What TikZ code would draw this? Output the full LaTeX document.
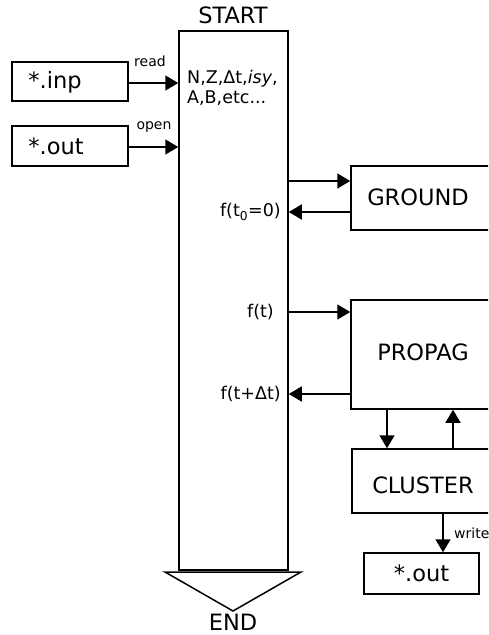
\documentclass[tikz,border=0pt]{standalone}
\usepackage{fontspec}
\setmainfont{DejaVu Sans}
\usepackage{xcolor}
\usepackage{tikz}
\usetikzlibrary{calc,arrows.meta}
\definecolor{ink}{HTML}{000000}
\tikzset{
  box/.style={draw=ink, line width=1.5pt, rectangle, inner sep=0pt},
  flow/.style={draw=ink, line width=1.5pt, -{Triangle[length=13pt,width=15pt]}},
  big/.style={text=ink, font=\fontsize{22.5}{25}\selectfont, inner sep=0pt},
  mid/.style={text=ink, font=\fontsize{17.5}{20}\selectfont, inner sep=0pt},
  lab/.style={text=ink, font=\fontsize{14}{16}\selectfont, inner sep=0pt},
}

\begin{document}
\begin{tikzpicture}[x=1pt,y=-1pt]
  \useasboundingbox (0,0) rectangle (488,635);
  \clip (0,0) rectangle (488,635);

  \coordinate (yr) at (0,83);
  \coordinate (yo) at (0,147);
  \coordinate (g1) at (0,181);
  \coordinate (g2) at (0,212);
  \coordinate (p1) at (0,312);
  \coordinate (p2) at (0,394);
  \coordinate (xd) at (387,0);
  \coordinate (xu) at (453,0);

  \node[box, minimum width=109pt, minimum height=539pt] (col) at (233.5,300.5) {};
  \node[big] (start) at (233,15) {START};
  \node[mid, anchor=west, align=left] (par) at (187,88)
    {N,Z,Δt,\textit{isy},\\A,B,etc...};

  \node[box, minimum width=116pt, minimum height=39pt] (inp) at (70,81.5) {};
  \node[big] (inptxt) at (55,82) {*.inp};
  \node[box, minimum width=116pt, minimum height=40pt] (outa) at (70,146) {};
  \node[big] (outatxt) at (56,146) {*.out};

  \node[box, minimum width=154pt, minimum height=64pt] (ground) at (428,198) {};
  \node[big] (groundtxt) at (418,197) {GROUND};
  \node[box, minimum width=154pt, minimum height=109pt] (propag) at (428,354.5) {};
  \node[big] (propagtxt) at (423,352) {PROPAG};
  \node[box, minimum width=154pt, minimum height=64pt] (cluster) at (429,481) {};
  \node[big] (clustertxt) at (423,485) {CLUSTER};
  \node[box, minimum width=115pt, minimum height=41pt] (outb) at (421.5,573.5) {};
  \node[big] (outbtxt) at (421.5,573.5) {*.out};

  \draw[flow] (inp.east |- yr) -- (col.west |- yr);
  \node[lab] (read) at (150,61) {read};
  \draw[flow] (outa.east |- yo) -- (col.west |- yo);
  \node[lab] (open) at (154,127) {open};

  \draw[flow] (col.east |- g1) -- (ground.west |- g1);
  \draw[flow] (ground.west |- g2) -- (col.east |- g2);
  \node[mid, anchor=east] (f0) at (281,212) {f(t\textsubscript{0}=0)};
  \draw[flow] (col.east |- p1) -- (propag.west |- p1);
  \node[mid, anchor=east] (ft) at (274,312) {f(t)};
  \draw[flow] (propag.west |- p2) -- (col.east |- p2);
  \node[mid, anchor=east] (fdt) at (281,394) {f(t+Δt)};

  \draw[flow] (propag.south -| xd) -- (cluster.north -| xd);
  \draw[flow] (cluster.north -| xu) -- (propag.south -| xu);
  \draw[flow] (cluster.south -| outb.north) ++(21.5,0) -- ($(outb.north)+(21.5,0)$);
  \node[lab, anchor=west] (write) at (454,533) {write};

  \draw[line width=1.5pt, line join=miter] (165,572) -- (301,572) -- (233,611) -- cycle;
  \node[big] (end) at (233,622) {END};
\end{tikzpicture}
\end{document}
